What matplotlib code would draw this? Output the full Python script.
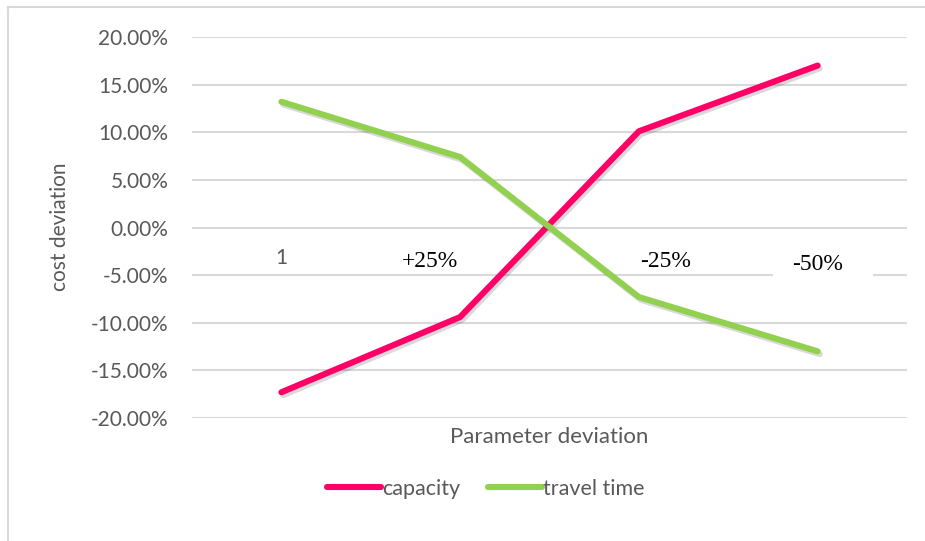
import matplotlib
matplotlib.use('Agg')
import matplotlib.pyplot as plt
import matplotlib.patheffects as pe
from matplotlib.lines import Line2D
from matplotlib.patches import Rectangle
from matplotlib.ticker import FuncFormatter

# sensitivity results (% cost deviation)
steps = ['1', '+25%', '-25%', '-50%']
capacity = [-17.3, -9.4, 10.1, 17.0]
travel_time = [13.2, 7.4, -7.3, -13.0]

# where the step labels sit inside the plot (category units, % units)
label_x = [0.0, 0.83, 2.15, 3.0]
label_y = [-3.2, -3.6, -3.6, -3.9]

grey = '#595959'
grid = '#D9D9D9'
sans = 'Lato'
serif = 'Liberation Serif'

fig = plt.figure(figsize=(9.25, 5.41), dpi=100)
ax = fig.add_axes([192/925, 1-418/541, 715/925, 381/541])

shadow = [pe.SimpleLineShadow(offset=(1.5, -2), shadow_color='black', alpha=0.15),
          pe.Normal()]
x = range(len(steps))
ax.plot(x, capacity, color='#FF0066', lw=4.4, solid_capstyle='round',
        solid_joinstyle='round', path_effects=shadow, label='capacity', zorder=4)
ax.plot(x, travel_time, color='#92D050', lw=4.4, solid_capstyle='round',
        solid_joinstyle='round', path_effects=shadow, label='travel time', zorder=4)

ax.set_xlim(-0.5, len(steps) - 0.5)
ax.set_ylim(-20, 20)
ax.set_yticks(range(-20, 21, 5))
ax.yaxis.set_major_formatter(FuncFormatter(lambda v, p: '%.2f%%' % v))
ax.set_xticks([])
ax.tick_params(axis='y', length=0, pad=17, labelsize=15, labelcolor=grey)
for t in ax.get_yticklabels():
    t.set_fontfamily(sans)
ax.grid(axis='y', color=grid, lw=1.5)
ax.set_axisbelow(True)
for s in ax.spines.values():
    s.set_visible(False)

# step labels drawn inside the plot area
for lab, lx, ly in zip(steps, label_x, label_y):
    if lab == '1':
        ax.text(lx, ly, lab, ha='center', va='center', fontsize=15,
                family=sans, color=grey, zorder=3)
    else:
        ax.text(lx, ly, lab, ha='center', va='center', fontsize=17,
                family=serif, color='black', zorder=3)
# white box behind the last label breaks the gridline
ax.add_patch(Rectangle((label_x[-1] - 0.25, label_y[-1] - 1.3), 0.56, 2.6,
                       facecolor='white', edgecolor='none', zorder=2))

fig.text(60/925, 1-227/541, 'cost deviation', rotation=90, ha='center',
         va='center', fontsize=15, family=sans, color=grey)
fig.text(549/925, 1-437/541, 'Parameter deviation', ha='center', va='center',
         fontsize=16, family=sans, color=grey)

leg = fig.legend(loc='center', bbox_to_anchor=(486/925, 1-489/541), ncol=2,
                 frameon=False, handlelength=2.5, handletextpad=0.05,
                 columnspacing=1.3, prop={'family': sans, 'size': 15.5})
for t in leg.get_texts():
    t.set_color(grey)
for h in leg.get_lines():
    h.set_path_effects([])

# chart area border (left and top edges)
fig.add_artist(Line2D([8/925, 8/925], [0, 1-7/541], color=grid, lw=1.5))
fig.add_artist(Line2D([8/925, 1], [1-7/541, 1-7/541], color=grid, lw=1.5))

fig.savefig('out.png', dpi=100)
